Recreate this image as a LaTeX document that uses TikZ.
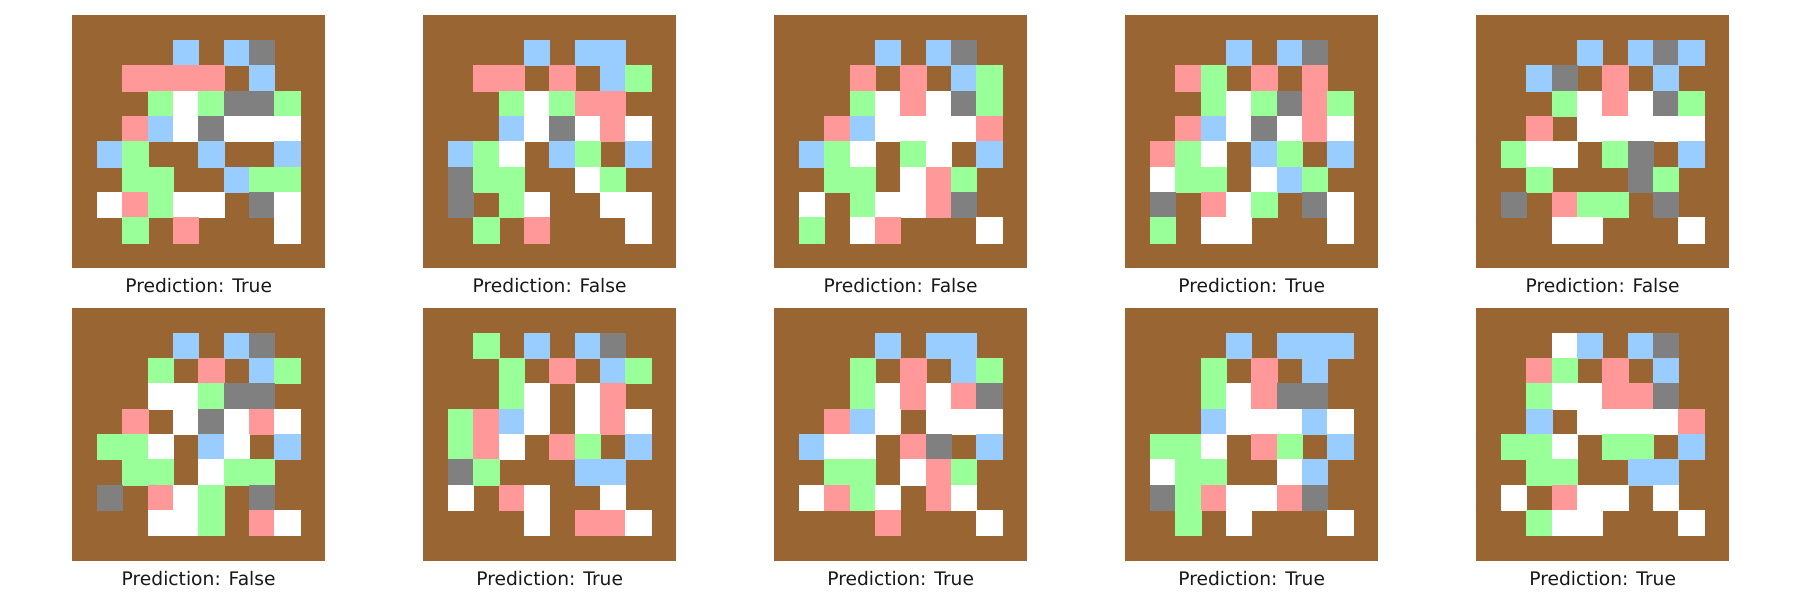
\documentclass[tikz,border=0pt]{standalone}
\usepackage{fontspec}
\setmainfont{DejaVu Sans}
\definecolor{cn}{HTML}{996633}
\definecolor{cB}{HTML}{99CCFF}
\definecolor{cP}{HTML}{FF9999}
\definecolor{cG}{HTML}{99FF99}
\definecolor{cY}{HTML}{808080}
\definecolor{cW}{HTML}{FFFFFF}
\tikzset{
  cellbox/.style={fill=#1, draw=#1, line width=0.3},
  lbl/.style={anchor=base, inner sep=0pt, font=\fontsize{11.25}{13.5}\selectfont, text=black!90},
}
\newcommand\gridpanel[5]{%
  \fill[cn] (#1,#2) rectangle ++(253.3,253.3);
  \foreach \rw [count=\r] in {#3} {
    \foreach \cl [count=\k] in \rw {
      \if n\cl\relax\else
        \path[cellbox=c\cl] ({#1+\k*25.33},{#2+\r*25.33}) rectangle ++(25.33,25.33);
      \fi
    }
  }
  \node[lbl] (lab#5) at ({#1+126.65},{#2+277.5}) {Prediction: #4};
}
\begin{document}
\begin{tikzpicture}[x=0.211667mm, y=-0.211667mm]
\useasboundingbox (0,0) rectangle (1800,600);
% panel 1
\gridpanel{72}{15}{
 {n,n,n,B,n,B,Y,n},
 {n,P,P,P,P,n,B,n},
 {n,n,G,W,G,Y,Y,G},
 {n,P,B,W,Y,W,W,W},
 {B,G,n,n,B,n,n,B},
 {n,G,G,n,n,B,G,G},
 {W,P,G,W,W,n,Y,W},
 {n,G,n,P,n,n,n,W}}{True}{1}
% panel 2
\gridpanel{423}{15}{
 {n,n,n,B,n,B,B,n},
 {n,P,P,n,P,n,B,G},
 {n,n,G,W,G,P,P,n},
 {n,n,B,W,Y,W,P,W},
 {B,G,W,n,B,G,n,B},
 {Y,G,G,n,n,W,G,n},
 {Y,n,G,W,n,n,W,W},
 {n,G,n,P,n,n,n,W}}{False}{2}
% panel 3
\gridpanel{774}{15}{
 {n,n,n,B,n,B,Y,n},
 {n,n,P,n,P,n,B,G},
 {n,n,G,W,P,W,Y,G},
 {n,P,B,W,W,W,W,P},
 {B,G,W,n,G,W,n,B},
 {n,G,G,n,W,P,G,n},
 {W,n,G,W,W,P,Y,n},
 {G,n,W,P,n,n,n,W}}{False}{3}
% panel 4
\gridpanel{1125}{15}{
 {n,n,n,B,n,B,Y,n},
 {n,P,G,n,P,n,P,n},
 {n,n,G,W,G,Y,P,G},
 {n,P,B,W,Y,W,P,W},
 {P,G,W,n,B,G,n,B},
 {W,G,G,n,W,B,G,n},
 {Y,n,P,W,G,n,Y,W},
 {G,n,W,W,n,n,n,W}}{True}{4}
% panel 5
\gridpanel{1476}{15}{
 {n,n,n,B,n,B,Y,B},
 {n,B,Y,n,P,n,B,n},
 {n,n,G,W,P,W,Y,G},
 {n,P,n,W,W,W,W,W},
 {G,W,W,n,G,Y,n,B},
 {n,G,n,n,n,Y,G,n},
 {Y,n,P,G,G,n,Y,n},
 {n,n,W,W,n,n,n,W}}{False}{5}
% panel 6
\gridpanel{72}{307.5}{
 {n,n,n,B,n,B,Y,n},
 {n,n,G,n,P,n,B,G},
 {n,n,W,W,G,Y,Y,n},
 {n,P,n,W,Y,W,P,W},
 {G,G,W,n,B,W,n,B},
 {n,G,G,n,W,G,G,n},
 {Y,n,P,W,G,n,Y,n},
 {n,n,W,W,G,n,P,W}}{False}{6}
% panel 7
\gridpanel{423}{307.5}{
 {n,G,n,B,n,B,Y,n},
 {n,n,G,n,P,n,B,G},
 {n,n,G,W,n,W,P,n},
 {G,P,B,W,n,W,P,W},
 {G,P,W,n,P,G,n,B},
 {Y,G,n,n,n,B,B,n},
 {W,n,P,W,n,n,W,n},
 {n,n,n,W,n,P,P,W}}{True}{7}
% panel 8
\gridpanel{774}{307.5}{
 {n,n,n,B,n,B,B,n},
 {n,n,G,n,P,n,B,G},
 {n,n,G,W,P,W,P,Y},
 {n,P,B,W,n,W,W,W},
 {B,W,W,n,P,Y,n,B},
 {n,G,G,n,W,P,G,n},
 {W,P,G,W,n,P,W,n},
 {n,n,n,P,n,n,n,W}}{True}{8}
% panel 9
\gridpanel{1125}{307.5}{
 {n,n,n,B,n,B,B,B},
 {n,n,G,n,P,n,B,n},
 {n,n,G,W,P,Y,Y,n},
 {n,n,B,W,W,W,B,W},
 {G,G,W,n,P,G,n,B},
 {W,G,G,n,n,W,B,n},
 {Y,G,P,W,W,P,Y,n},
 {n,G,n,W,n,n,n,W}}{True}{9}
% panel 10
\gridpanel{1476}{307.5}{
 {n,n,W,B,n,B,Y,n},
 {n,P,G,n,P,n,B,n},
 {n,G,W,W,P,P,Y,n},
 {n,B,n,W,W,W,W,P},
 {G,G,W,n,G,G,n,B},
 {n,G,G,n,n,B,B,n},
 {W,n,P,W,W,n,W,n},
 {n,G,W,W,n,n,n,W}}{True}{10}
\end{tikzpicture}
\end{document}
